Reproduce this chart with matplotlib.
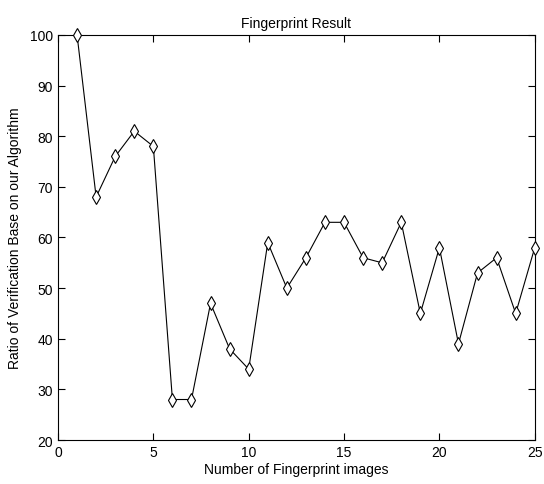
import matplotlib
matplotlib.use('Agg')
import matplotlib.pyplot as plt

plt.rcParams['font.family'] = ['Liberation Sans', 'DejaVu Sans']

images = list(range(1, 26))
ratio = [100, 68, 76, 81, 78, 28, 28, 47, 38, 34, 59, 50, 56, 63, 63,
         56, 55, 63, 45, 58, 39, 53, 56, 45, 58]

fig = plt.figure(figsize=(5.44, 4.85), dpi=100)
ax = fig.add_axes([0.1066, 0.0907, 0.8764, 0.8351])

ax.plot(images, ratio, color='black', linewidth=0.8, marker='d',
        markersize=7, markerfacecolor='white', markeredgecolor='black',
        markeredgewidth=0.8, clip_on=False, zorder=3)

ax.set_xlim(0, 25)
ax.set_ylim(20, 100)
ax.set_xticks(range(0, 26, 5))
ax.set_yticks(range(20, 101, 10))
ax.tick_params(direction='in', top=True, right=True, length=5,
               labelsize=10, width=0.8)
for s in ax.spines.values():
    s.set_linewidth(0.8)

ax.set_title("Fingerprint Result", fontsize=10, pad=6)
ax.set_xlabel("Number of Fingerprint images", fontsize=10, labelpad=2)
ax.set_ylabel("Ratio of Verification Base on our Algorithm", fontsize=10, labelpad=6)

fig.savefig("out.png", dpi=100)
